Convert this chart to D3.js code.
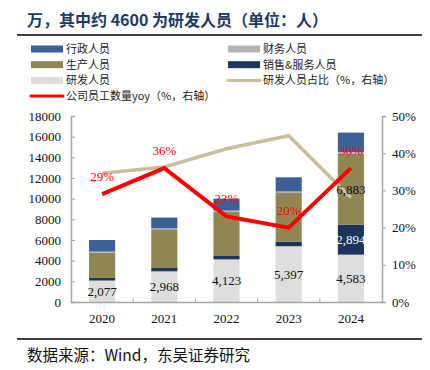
<!DOCTYPE html>
<html>
<head>
<meta charset="utf-8">
<script src="https://cdn.jsdelivr.net/npm/d3@7"></script>
<style>
  body { margin: 0; background: #fff; }
  svg { display: block; }
</style>
</head>
<body>
<svg id="chart" width="430" height="370"></svg>
<script>
const years = ["2020", "2021", "2022", "2023", "2024"];
const rd = [2077, 2968, 4123, 5397, 4583];
const sales = [250, 320, 330, 450, 2894];
const production = [2450, 3750, 4250, 4700, 6883];
const finance = [100, 100, 150, 150, 150];
const admin = [1120, 1030, 1150, 1370, 1880];
const rdShare = [34.6, 36.3, 41.2, 44.7, 28.0];
const staffYoy = [29, 36, 23, 20, 36];
const leftTicks = [0, 2000, 4000, 6000, 8000, 10000, 12000, 14000, 16000, 18000];
const rightTicks = [0, 10, 20, 30, 40, 50];

const serif = "'Liberation Serif', 'Times New Roman', serif";
const cjk = "'Noto Sans CJK SC', sans-serif";

const svg = d3.select("#chart");

// title + rules
svg.append("text")
  .attr("x", 27).attr("y", 26)
  .attr("font-family", cjk).attr("font-size", 16).attr("font-weight", "bold")
  .attr("fill", "#1f3864")
  .text("万，其中约 4600 为研发人员（单位：人）");
svg.append("line").attr("x1", 17).attr("x2", 422).attr("y1", 35).attr("y2", 35)
  .attr("stroke", "#000").attr("stroke-width", 1.5);
svg.append("line").attr("x1", 17).attr("x2", 422).attr("y1", 339).attr("y2", 339)
  .attr("stroke", "#000").attr("stroke-width", 1.5);
svg.append("text")
  .attr("x", 27).attr("y", 361)
  .attr("font-family", cjk).attr("font-size", 15.5).attr("fill", "#111")
  .text("数据来源：Wind，东吴证券研究");

// legend
const legend = [
  {name: "行政人员", color: "#3c6198", type: "rect", col: 0, row: 0},
  {name: "财务人员", color: "#b3b3b3", type: "rect", col: 1, row: 0},
  {name: "生产人员", color: "#908654", type: "rect", col: 0, row: 1},
  {name: "销售&服务人员", color: "#1c355e", type: "rect", col: 1, row: 1},
  {name: "研发人员", color: "#dedede", type: "rect", col: 0, row: 2},
  {name: "研发人员占比（%，右轴）", color: "#c8bf9b", type: "line", col: 1, row: 2},
  {name: "公司员工数量yoy（%，右轴）", color: "#ff0000", type: "line", col: 0, row: 3}
];
const lg = svg.append("g").selectAll("g").data(legend).join("g")
  .attr("transform", d => `translate(${d.col ? 228 : 31},${49 + d.row * 15.7})`);
lg.filter(d => d.type === "rect").append("rect")
  .attr("x", 0).attr("y", -3.5).attr("width", 32).attr("height", 7)
  .attr("fill", d => d.color);
lg.filter(d => d.type === "line").append("line")
  .attr("x1", 0).attr("x2", 32).attr("y1", 0).attr("y2", 0)
  .attr("stroke", d => d.color).attr("stroke-width", 3).attr("stroke-linecap", "round");
lg.append("text")
  .attr("x", 35).attr("y", 4)
  .attr("font-family", cjk).attr("font-size", 11).attr("fill", "#222")
  .text(d => d.name);

// scales
const x = d3.scaleBand().domain(years).range([71, 382]).paddingInner(0.58).paddingOuter(0.29);
const y = d3.scaleLinear().domain([0, 18000]).range([302, 116]);
const y2 = d3.scaleLinear().domain([0, 50]).range([302, 116]);

// axes
const axisColor = "#a6a6a6";
const gl = svg.append("g").attr("transform", "translate(71,0)")
  .call(d3.axisRight(y).tickValues(leftTicks).tickSize(4).tickFormat(""));
const gr = svg.append("g").attr("transform", "translate(382,0)")
  .call(d3.axisRight(y2).tickValues(rightTicks).tickSize(4).tickFormat(""));
[gl, gr].forEach(g => {
  g.select(".domain").attr("stroke", axisColor).attr("stroke-width", 1.5);
  g.selectAll(".tick line").attr("stroke", axisColor);
});
svg.append("g").selectAll("text").data(leftTicks).join("text")
  .attr("x", 61).attr("y", d => y(d) + 4.5).attr("text-anchor", "end")
  .attr("font-family", serif).attr("font-size", 13).attr("fill", "#111")
  .text(d => d);
svg.append("g").selectAll("text").data(rightTicks).join("text")
  .attr("x", 392).attr("y", d => y2(d) + 4.5)
  .attr("font-family", serif).attr("font-size", 13).attr("fill", "#111")
  .text(d => d + "%");

// stacked bars
const table = years.map((yr, i) => ({
  year: yr, rd: rd[i], sales: sales[i], production: production[i],
  finance: finance[i], admin: admin[i]
}));
const keys = ["rd", "sales", "production", "finance", "admin"];
const colors = {rd: "#dedede", sales: "#1c355e", production: "#908654", finance: "#b3b3b3", admin: "#3c6198"};
const series = d3.stack().keys(keys)(table);
svg.append("g").selectAll("g").data(series).join("g")
  .attr("fill", s => colors[s.key])
  .selectAll("rect").data(s => s).join("rect")
  .attr("x", d => x(d.data.year))
  .attr("width", x.bandwidth())
  .attr("y", d => y(d[1]))
  .attr("height", d => y(d[0]) - y(d[1]));

// x axis baseline with category separators
const baseG = svg.append("g").attr("transform", "translate(0,302)")
  .call(d3.axisBottom(x).tickSize(0).tickFormat(""));
baseG.select(".domain").attr("stroke", axisColor).attr("stroke-width", 1.5);
const step = x.step();
svg.append("g").selectAll("line").data(years.slice(1)).join("line")
  .attr("x1", d => x(d) - (step - x.bandwidth()) / 2)
  .attr("x2", d => x(d) - (step - x.bandwidth()) / 2)
  .attr("y1", 302).attr("y2", 298)
  .attr("stroke", axisColor);
svg.append("g").selectAll("text").data(years).join("text")
  .attr("x", d => x(d) + x.bandwidth() / 2).attr("y", 323)
  .attr("text-anchor", "middle")
  .attr("font-family", serif).attr("font-size", 13).attr("fill", "#111")
  .text(d => d);

// lines
const px = i => x(years[i]) + x.bandwidth() / 2;
const line = d3.line().x((d, i) => px(i)).y(d => y2(d));
svg.append("path").datum(rdShare).attr("d", line)
  .attr("fill", "none").attr("stroke", "#c8bf9b").attr("stroke-width", 3.5);
svg.append("path").datum(staffYoy).attr("d", line)
  .attr("fill", "none").attr("stroke", "#ff0000").attr("stroke-width", 4);

// bar labels (drawn over the lines)
const fmt = d3.format(",");
const cx = d => x(d.data.year) + x.bandwidth() / 2;
svg.append("g").selectAll("text").data(series[0]).join("text")
  .attr("x", cx).attr("y", d => (y(d[0]) + y(d[1])) / 2 + 4.5)
  .attr("text-anchor", "middle")
  .attr("font-family", serif).attr("font-size", 13).attr("fill", "#111")
  .text(d => fmt(d.data.rd));
const last = years.length - 1;
svg.append("text")
  .attr("x", cx(series[1][last])).attr("y", (y(series[1][last][0]) + y(series[1][last][1])) / 2 + 4.5)
  .attr("text-anchor", "middle")
  .attr("font-family", serif).attr("font-size", 13).attr("fill", "#fff")
  .text(fmt(sales[last]));
svg.append("text")
  .attr("x", cx(series[2][last])).attr("y", (y(series[2][last][0]) + y(series[2][last][1])) / 2 + 4.5)
  .attr("text-anchor", "middle")
  .attr("font-family", serif).attr("font-size", 13).attr("fill", "#111")
  .text(fmt(production[last]));

svg.append("g").selectAll("text").data(staffYoy).join("text")
  .attr("x", (d, i) => px(i)).attr("y", d => y2(d) - 13)
  .attr("text-anchor", "middle")
  .attr("font-family", serif).attr("font-size", 13).attr("fill", "#ff0000")
  .text(d => d + "%");
</script>
</body>
</html>
